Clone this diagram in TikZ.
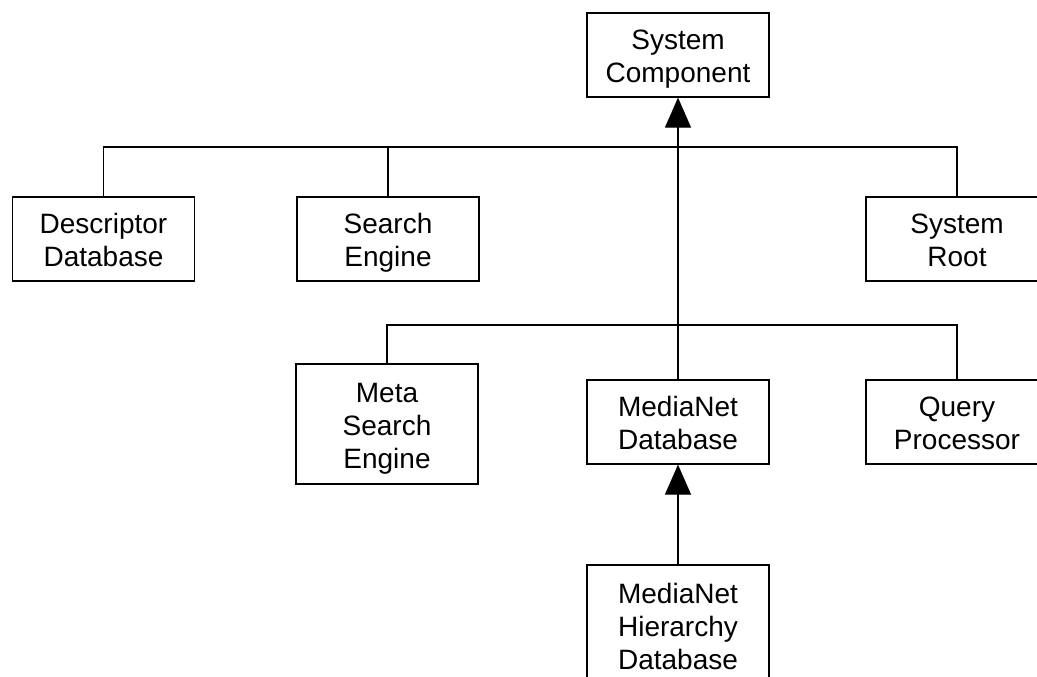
\documentclass[tikz,border=0pt]{standalone}
\usepackage{fontspec}
\setmainfont{Liberation Sans}
\usetikzlibrary{arrows.meta}
% struts that give every box the same first-line height and last-line depth
\newcommand{\toprow}{\rule{0pt}{29pt}}
\newcommand{\lastrow}{\rule[-7pt]{0pt}{7pt}}
\begin{document}
\begin{tikzpicture}[x=1pt,y=-1pt,
  box/.style={draw=black, line width=1.2pt, fill=white, minimum width=182pt,
    minimum height=84pt, inner sep=0pt, align=center,
    font=\fontsize{28}{33}\selectfont},
  tallbox/.style={box, minimum height=120pt},
  link/.style={draw=black, line width=1.2pt},
  isa/.style={link, -{Triangle[length=30pt,width=26pt]}}]
\useasboundingbox (0,0) rectangle (1037,677);

% class boxes
\node[box] (sc) at (678,55) {\toprow System\\Component\lastrow};
\node[box] (dd) at (103.5,239) {\toprow Descriptor\\Database\lastrow};
\node[box] (se) at (388,239) {\toprow Search\\Engine\lastrow};
\node[box] (sr) at (957,239) {\toprow System\\Root\lastrow};
\node[tallbox] (ms) at (387,424) {\toprow Meta\\Search\\Engine\lastrow};
\node[box] (md) at (678,422) {\toprow MediaNet\\Database\lastrow};
\node[box] (qp) at (957,422) {\toprow Query\\Processor\lastrow};
\node[tallbox] (mh) at (678,625) {\toprow MediaNet\\Hierarchy\\Database\lastrow};

% levels of the two buses
\coordinate (busA) at (0,147);
\coordinate (busB) at (0,325);

% generalisation towards System Component
\draw[isa] (md.north) -- (sc.south);
\draw[link] (dd.north) -- (dd.north |- busA) -- (sr.north |- busA) -- (sr.north);
\draw[link] (se.north) -- (se.north |- busA);
\draw[link] (ms.north) -- (ms.north |- busB) -- (qp.north |- busB) -- (qp.north);

% MediaNet Hierarchy Database specialises MediaNet Database
\draw[isa] (mh.north) -- (md.south);
\end{tikzpicture}
\end{document}
